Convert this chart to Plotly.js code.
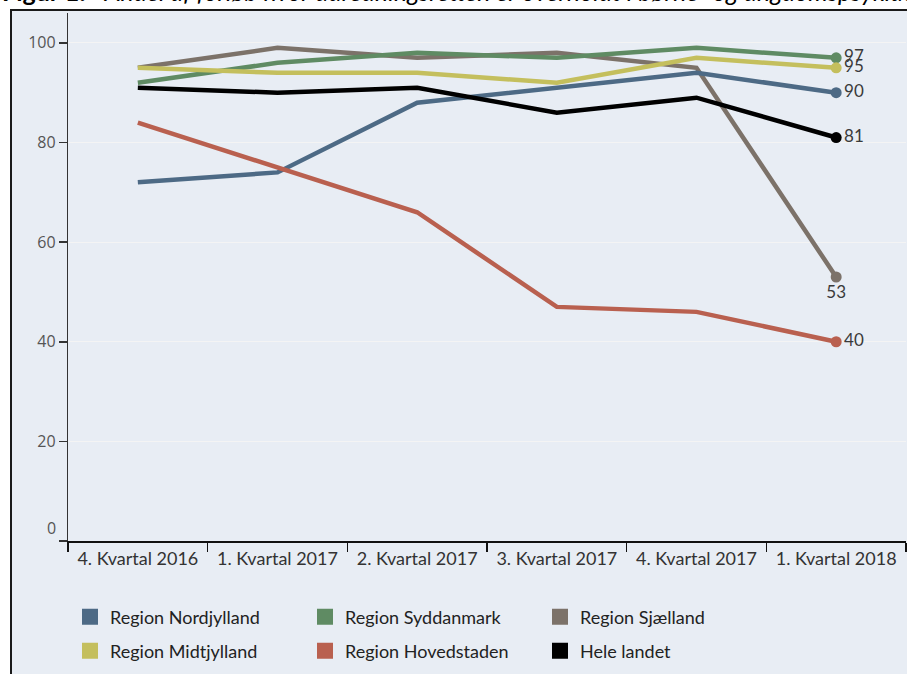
<!DOCTYPE html>
<html>
<head>
<meta charset="utf-8">
<script src="https://cdn.plot.ly/plotly-3.0.1.min.js"></script>
<style>
  html, body { margin: 0; padding: 0; background: #ffffff; overflow: hidden; }
  #frame { position: absolute; left: 10px; top: 9px; width: 960px; height: 720px;
           background: #e8edf4; border-left: 2px solid #1a1a1a; border-top: 2px solid #1a1a1a; }
  #chart { position: absolute; left: 0; top: 0; width: 907px; height: 674px; }
</style>
</head>
<body>
<div id="frame"></div>
<div id="chart"></div>
<script>
const quarters = ["4. Kvartal 2016", "1. Kvartal 2017", "2. Kvartal 2017", "3. Kvartal 2017", "4. Kvartal 2017", "1. Kvartal 2018"];

const nordjylland = [72, 74, 88, 91, 94, 90];
const syddanmark  = [92, 96, 98, 97, 99, 97];
const sjaelland   = [95, 99, 97, 98, 95, 53];
const midtjylland = [95, 94, 94, 92, 97, 95];
const hovedstaden = [84, 75, 66, 47, 46, 40];
const heleLandet  = [91, 90, 91, 86, 89, 81];

const seriesNames = ["Region Nordjylland", "Region Syddanmark", "Region Sjælland", "Region Midtjylland", "Region Hovedstaden", "Hele landet"];
const seriesValues = [nordjylland, syddanmark, sjaelland, midtjylland, hovedstaden, heleLandet];
const seriesColors = ["#4d6a85", "#5f8b63", "#7c7269", "#c4bf5d", "#b9604f", "#000000"];
const labelPos = ["middle right", "middle right", "bottom center", "middle right", "middle right", "middle right"];
const drawOrder = [2, 0, 1, 3, 4, 5];
const legendRow = ["legend", "legend", "legend", "legend2", "legend2", "legend2"];

const yTicks = [0, 20, 40, 60, 80, 100];
const yTickText = ["", "20", "40", "60", "80", "100"];

const last = quarters.length - 1;
const traces = [];
drawOrder.forEach(i => {
  const vals = seriesValues[i];
  traces.push({
    type: "scatter", mode: "lines", x: quarters, y: vals,
    line: { color: seriesColors[i], width: 4.5 },
    showlegend: false, hoverinfo: "x+y", name: seriesNames[i]
  });
  traces.push({
    type: "scatter", mode: "markers+text", x: [quarters[last]], y: [vals[last]],
    marker: { color: seriesColors[i], size: 11 },
    text: [String(vals[last])], textposition: labelPos[i],
    textfont: { family: "Lato, sans-serif", size: 17, color: "#3a3a3a" },
    showlegend: false, cliponaxis: false, name: seriesNames[i]
  });
});
// legend entries (order as reference)
seriesNames.forEach((n, i) => {
  traces.push({
    type: "scatter", mode: "markers", x: [null], y: [null], name: n,
    marker: { color: seriesColors[i], symbol: "square", size: 18 },
    legend: legendRow[i], showlegend: true
  });
});

const legendCommon = {
  orientation: "h", xref: "container", yref: "container",
  xanchor: "left", yanchor: "middle",
  bgcolor: "rgba(0,0,0,0)", borderwidth: 0,
  entrywidth: 190, entrywidthmode: "pixels",
  font: { family: "Lato, sans-serif", size: 18, color: "#222" },
  itemclick: false, itemdoubleclick: false
};

const layout = {
  width: 907, height: 674,
  paper_bgcolor: "rgba(0,0,0,0)", plot_bgcolor: "rgba(0,0,0,0)",
  margin: { l: 68, r: 1, t: 13, b: 133 },
  showlegend: true,
  xaxis: {
    type: "category", range: [-0.5, 5.5],
    showline: true, linecolor: "#111", linewidth: 2,
    ticks: "outside", tickson: "boundaries", ticklen: 9, tickcolor: "#111", tickwidth: 1.5,
    showgrid: false, zeroline: false,
    tickfont: { family: "Lato, sans-serif", size: 18, color: "#333" },
    fixedrange: true
  },
  yaxis: {
    range: [0, 106], tickvals: yTicks, ticktext: yTickText,
    showline: true, linecolor: "#333", linewidth: 1.2,
    ticks: "outside", ticklen: 8, tickcolor: "#333", tickwidth: 1.5,
    showgrid: true, gridcolor: "#f4f4f4", gridwidth: 1, zeroline: false,
    tickfont: { family: "Open Sans, sans-serif", size: 16, color: "#555" },
    fixedrange: true
  },
  legend: Object.assign({}, legendCommon, { x: 70 / 907, y: 1 - 617 / 674 }),
  legend2: Object.assign({}, legendCommon, { x: 70 / 907, y: 1 - 651 / 674 }),
  annotations: [
    {
      text: "0", xref: "paper", yref: "y", x: 0, y: 0, xanchor: "right", yanchor: "middle",
      xshift: -10, yshift: 13, showarrow: false,
      font: { family: "Open Sans, sans-serif", size: 16, color: "#555" }
    },
    {
      text: "<b>Figur 1:</b>   <i>Andel af forløb hvor udredningsretten er overholdt i børne- og ungdomspsykiatrien</i>",
      xref: "paper", yref: "paper", x: -68 / 838, y: 1 + 22 / 528, xanchor: "left", yanchor: "middle",
      showarrow: false, font: { family: "Lato, sans-serif", size: 25, color: "#000" }
    }
  ]
};

Plotly.newPlot("chart", traces, layout, { displayModeBar: false, staticPlot: true });
</script>
</body>
</html>
